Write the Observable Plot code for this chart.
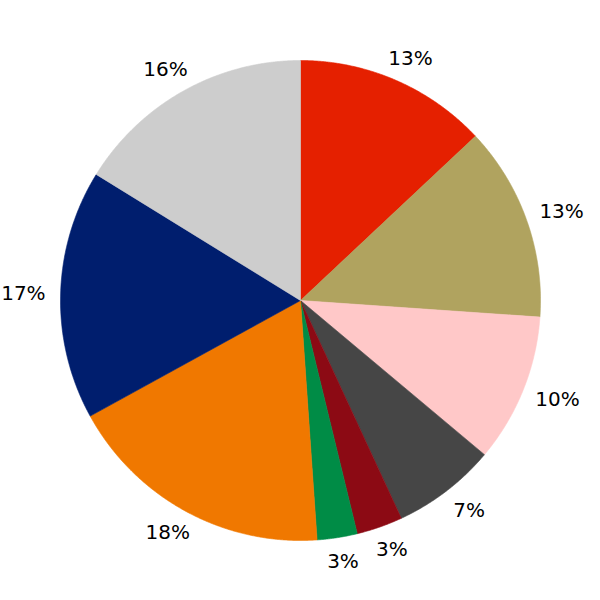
<!DOCTYPE html>
<html>
<head>
<meta charset="utf-8">
<script src="https://cdn.jsdelivr.net/npm/d3@7"></script>
<script src="https://cdn.jsdelivr.net/npm/@observablehq/plot@0.6"></script>
<style>
  html, body { margin: 0; padding: 0; background: #fff; }
  #chart { width: 600px; height: 600px; }
</style>
</head>
<body>
<div id="chart"></div>
<script>
// Slices, clockwise from 12 o'clock
const categories = ["Slice 1", "Slice 2", "Slice 3", "Slice 4", "Slice 5", "Slice 6", "Slice 7", "Slice 8", "Slice 9"];
const shares = [13.0, 13.1, 10.0, 7.0, 3.1, 2.7, 18.1, 16.8, 16.2];
const palette = ["#e52000", "#b0a35f", "#ffc8c8", "#464646", "#8c0a14", "#008c46", "#f07800", "#001e6e", "#cdcdcd"];

const rows = categories.map((c, i) => ({category: c, share: shares[i]}));
const arcs = d3.pie().sort(null).value(d => d.share)(rows);

// polygon outline of each slice (unit radius), angle 0 = top, clockwise
const outline = [];
for (const a of arcs) {
  const c = a.data.category;
  outline.push({category: c, x: 0, y: 0});
  const n = Math.max(2, Math.ceil((a.endAngle - a.startAngle) / (Math.PI / 720)));
  for (let k = 0; k <= n; k++) {
    const t = a.startAngle + (a.endAngle - a.startAngle) * k / n;
    outline.push({category: c, x: Math.sin(t), y: Math.cos(t)});
  }
  outline.push({category: c, x: 0, y: 0});
}

// labels outside the pie, at each slice's mid angle
const labelRx = 1.155, labelRy = 1.1;
const labels = arcs.map(a => {
  const m = (a.startAngle + a.endAngle) / 2;
  return {category: a.data.category, x: Math.sin(m) * labelRx, y: Math.cos(m) * labelRy, text: Math.round(a.data.share) + "%"};
});

const plot = Plot.plot({
  width: 600,
  height: 600,
  margin: 0,
  x: {domain: [-1.25, 1.25], axis: null},
  y: {domain: [-1.25, 1.25], axis: null},
  color: {domain: categories, range: palette},
  style: {background: "#fff"},
  marks: [
    Plot.line(outline, {x: "x", y: "y", z: "category", fill: "category", stroke: "category", strokeWidth: 0.6, curve: "linear"}),
    Plot.text(labels, {x: "x", y: "y", text: "text", fontSize: 20, fontFamily: "DejaVu Sans", fill: "#000", textAnchor: "middle"})
  ]
});
document.getElementById("chart").appendChild(plot);
</script>
</body>
</html>
